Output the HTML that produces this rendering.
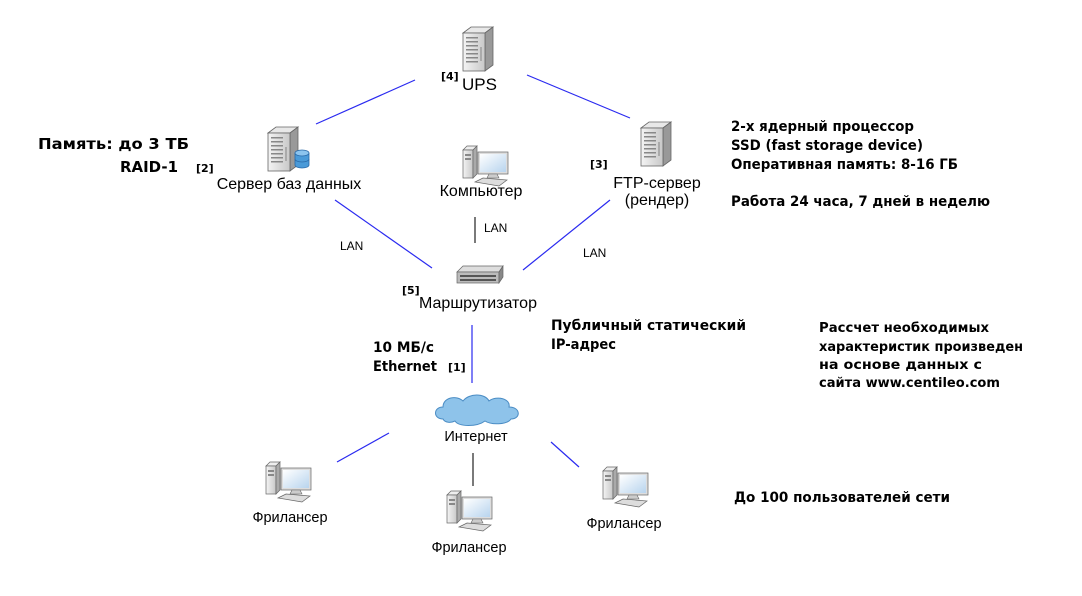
<!DOCTYPE html>
<html><head><meta charset="utf-8"><style>
html,body{margin:0;padding:0;background:#fff;width:1082px;height:596px;overflow:hidden}
svg{display:block}
.n{font-family:"Liberation Sans",sans-serif;font-size:16px;fill:#000}
.b{font-family:"DejaVu Sans","Liberation Sans",sans-serif;font-weight:bold;font-size:14px;fill:#000}
.s{font-family:"Liberation Sans",sans-serif;font-size:12px;fill:#000}
.t{font-family:"DejaVu Sans",sans-serif;font-weight:bold;font-size:11px;fill:#000}
line{stroke:#2a2af0;stroke-width:1.2}
</style></head><body>
<svg width="1082" height="596" viewBox="0 0 1082 596" xmlns="http://www.w3.org/2000/svg">
<defs>
<linearGradient id="g" x1="0" x2="1"><stop offset="0" stop-color="#f4f4f4"/><stop offset="1" stop-color="#c8c8c8"/></linearGradient>
<linearGradient id="sc" x1="0" y1="0" x2="1" y2="1"><stop offset="0" stop-color="#fff"/><stop offset="1" stop-color="#b8d4ee"/></linearGradient>
<g id="tower">
<path d="M0,6 L8,0 L30,0 L22,6Z" fill="#e8e8e8" stroke="#666" stroke-width="0.8"/>
<path d="M22,6 L30,0 L30,38 L22,44Z" fill="#999" stroke="#666" stroke-width="0.8"/>
<rect x="0" y="6" width="22" height="38" fill="url(#g)" stroke="#666" stroke-width="0.8"/>
<g><rect x="3" y="10" width="12" height="1.5" fill="#888"/><rect x="3" y="14" width="12" height="1.5" fill="#888"/><rect x="3" y="18" width="12" height="1.5" fill="#888"/><rect x="3" y="22" width="12" height="1.5" fill="#888"/><rect x="3" y="26" width="12" height="1.5" fill="#888"/><rect x="3" y="30" width="12" height="1.5" fill="#888"/><rect x="3" y="34" width="12" height="1.5" fill="#888"/><rect x="17" y="20" width="2" height="14" fill="#aaa"/></g>
</g>
<g id="pc">
<path d="M0,4 L4,0 L14,0 L10,4Z" fill="#eee" stroke="#666" stroke-width="0.7"/>
<rect x="0" y="4" width="10" height="28" fill="url(#g)" stroke="#666" stroke-width="0.7"/>
<path d="M10,4 L14,0 L14,28 L10,32Z" fill="#aaa" stroke="#666" stroke-width="0.7"/>
<rect x="2" y="8" width="6" height="2" fill="#888"/><rect x="2" y="12" width="6" height="2" fill="#888"/>
<rect x="15" y="6" width="30" height="22" fill="#ddd" stroke="#666" stroke-width="0.7"/>
<rect x="17" y="8" width="26" height="18" fill="url(#sc)"/>
<path d="M26,28 L34,28 L36,32 L24,32Z" fill="#ccc" stroke="#666" stroke-width="0.6"/>
<path d="M12,36 L20,32 L44,34 L36,40Z" fill="#ddd" stroke="#666" stroke-width="0.7"/>
</g>
</defs>

<line x1="415" y1="80" x2="316" y2="124"/>
<line x1="527" y1="75" x2="630" y2="118"/>
<line x1="335" y1="200" x2="432" y2="268"/>
<line x1="475" y1="217" x2="475" y2="243" style="stroke:#222"/>
<line x1="610" y1="200" x2="523" y2="270"/>
<line x1="472" y1="325" x2="472" y2="383"/>
<line x1="389" y1="433" x2="337" y2="462"/>
<line x1="473" y1="453" x2="473" y2="486" style="stroke:#222"/>
<line x1="551" y1="442" x2="579" y2="467"/>

<use href="#tower" x="463" y="27"/>
<use href="#tower" x="268" y="127"/>
<g transform="translate(295,150)"><path d="M0,3 v12 a7,3 0 0 0 14,0 v-12" fill="#4a9ad8" stroke="#2a6aa8" stroke-width="0.8"/><ellipse cx="7" cy="3" rx="7" ry="3" fill="#8cc4ee" stroke="#2a6aa8" stroke-width="0.8"/><path d="M0,9 a7,3 0 0 0 14,0" fill="none" stroke="#2a6aa8" stroke-width="0.8"/></g>
<use href="#tower" x="641" y="122"/>
<use href="#pc" x="463" y="146"/>
<g transform="translate(457,266)"><path d="M0,6 L6,0 L46,0 L42,6Z" fill="#ddd" stroke="#666" stroke-width="0.7"/><rect x="0" y="6" width="42" height="11" fill="#bbb" stroke="#666" stroke-width="0.7"/><path d="M42,6 L46,0 L46,11 L42,17Z" fill="#888" stroke="#666" stroke-width="0.7"/><g fill="#555"><rect x="3" y="9" width="36" height="2"/><rect x="3" y="13" width="36" height="2"/></g></g>
<g transform="translate(435,393)"><path d="M8,26 C-2,26 -2,14 8,14 C8,4 22,2 28,8 C34,0 50,0 54,8 C62,2 76,6 74,14 C86,14 86,26 76,26 C72,32 56,32 50,28 C42,34 24,34 20,28 C16,30 10,30 8,26Z" fill="#8ec3ea" stroke="#4a8cc4" stroke-width="1"/></g>
<use href="#pc" x="266" y="462"/>
<use href="#pc" x="447" y="491"/>
<use href="#pc" x="603" y="467"/>

<text class="t" x="441" y="80">[4]</text>
<text class="n" x="462" y="90" style="font-size:17px">UPS</text>
<text class="n" x="289" y="189" text-anchor="middle">Сервер баз данных</text>
<text class="t" x="196" y="172">[2]</text>
<text class="b" x="38" y="149" style="font-size:15px" textLength="151" lengthAdjust="spacingAndGlyphs">Память: до 3 ТБ</text>
<text class="b" x="120" y="172" style="font-size:15px" textLength="58" lengthAdjust="spacingAndGlyphs">RAID-1</text>
<text class="n" x="481" y="196" text-anchor="middle">Компьютер</text>
<text class="t" x="590" y="168">[3]</text>
<text class="n" x="657" y="188" text-anchor="middle">FTP-сервер</text>
<text class="n" x="657" y="205" text-anchor="middle">(рендер)</text>
<text class="b" x="731" y="131" textLength="183" lengthAdjust="spacingAndGlyphs">2-х ядерный процессор</text>
<text class="b" x="731" y="150" textLength="192" lengthAdjust="spacingAndGlyphs">SSD (fast storage device)</text>
<text class="b" x="731" y="169" textLength="227" lengthAdjust="spacingAndGlyphs">Оперативная память: 8-16 ГБ</text>
<text class="b" x="731" y="206" textLength="259" lengthAdjust="spacingAndGlyphs">Работа 24 часа, 7 дней в неделю</text>
<text class="s" x="340" y="250">LAN</text>
<text class="s" x="484" y="232">LAN</text>
<text class="s" x="583" y="257">LAN</text>
<text class="t" x="402" y="294">[5]</text>
<text class="n" x="478" y="308" text-anchor="middle">Маршрутизатор</text>
<text class="b" x="551" y="330" textLength="195" lengthAdjust="spacingAndGlyphs">Публичный статический</text>
<text class="b" x="551" y="349" textLength="65" lengthAdjust="spacingAndGlyphs">IP-адрес</text>
<text class="b" x="373" y="352" textLength="61" lengthAdjust="spacingAndGlyphs">10 МБ/с</text>
<text class="b" x="373" y="371" textLength="64" lengthAdjust="spacingAndGlyphs">Ethernet</text>
<text class="t" x="448" y="371">[1]</text>
<text class="s" x="476" y="441" text-anchor="middle" style="font-size:14.5px">Интернет</text>
<text class="s" x="290" y="522" text-anchor="middle" style="font-size:14.5px">Фрилансер</text>
<text class="s" x="469" y="552" text-anchor="middle" style="font-size:14.5px">Фрилансер</text>
<text class="s" x="624" y="528" text-anchor="middle" style="font-size:14.5px">Фрилансер</text>
<text class="b" x="734" y="502" textLength="216" lengthAdjust="spacingAndGlyphs">До 100 пользователей сети</text>
<text class="b" x="819" y="332" textLength="170" lengthAdjust="spacingAndGlyphs" style="font-size:13px">Рассчет необходимых</text>
<text class="b" x="819" y="351" textLength="204" lengthAdjust="spacingAndGlyphs" style="font-size:13px">характеристик произведен</text>
<text class="b" x="819" y="369" textLength="163" lengthAdjust="spacingAndGlyphs" style="font-size:13px">на основе данных с</text>
<text class="b" x="819" y="387" textLength="181" lengthAdjust="spacingAndGlyphs" style="font-size:13px">сайта www.centileo.com</text>
</svg>
</body></html>
